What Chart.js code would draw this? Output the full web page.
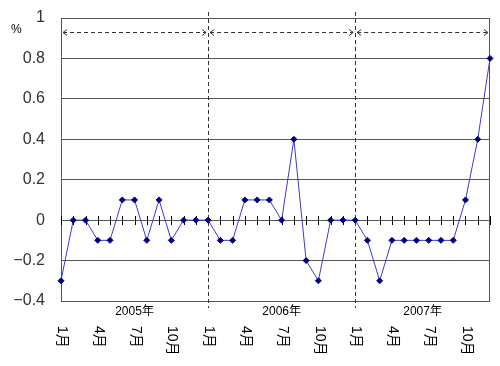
<!DOCTYPE html>
<html>
<head>
<meta charset="utf-8">
<script src="https://cdn.jsdelivr.net/npm/chart.js@4"></script>
<style>
  html, body { margin: 0; padding: 0; background: #fff; }
  #wrap { width: 500px; height: 366px; }
</style>
</head>
<body>
<div id="wrap"><canvas id="myLineChart" width="500" height="366"></canvas></div>
<script>
// Data per tahun (nilai %)
const years = ['2005年', '2006年', '2007年'];
const months = ['1月', '2月', '3月', '4月', '5月', '6月', '7月', '8月', '9月', '10月', '11月', '12月'];
const shownMonths = ['1月', '4月', '7月', '10月'];
const values2005 = [-0.3, 0, 0, -0.1, -0.1, 0.1, 0.1, -0.1, 0.1, -0.1, 0, 0];
const values2006 = [0, -0.1, -0.1, 0.1, 0.1, 0.1, 0, 0.4, -0.2, -0.3, 0, 0];
const values2007 = [0, -0.1, -0.3, -0.1, -0.1, -0.1, -0.1, -0.1, -0.1, 0.1, 0.4, 0.8];
const yTicks = [-0.4, -0.2, 0, 0.2, 0.4, 0.6, 0.8, 1];

const labels = [];
years.forEach(y => months.forEach(m => labels.push(y + m)));
const values = values2005.concat(values2006, values2007);

const jpFont = '"Liberation Sans", Arial, "Noto Sans CJK JP", sans-serif';

// gambar bingkai, garis putus-putus, tanda tick, dan label
const decorPlugin = {
  id: 'decor',
  beforeDatasetsDraw(chart) {
    const { ctx, chartArea: a, scales: { x, y } } = chart;
    ctx.save();

    // bingkai
    ctx.strokeStyle = '#555';
    ctx.lineWidth = 1;
    ctx.strokeRect(Math.round(a.left) + 0.5, Math.round(a.top) + 0.5,
      Math.round(a.right - a.left) - 1, Math.round(a.bottom - a.top));

    // tick kecil pada garis 0
    const y0 = Math.round(y.getPixelForValue(0));
    ctx.strokeStyle = '#000';
    ctx.beginPath();
    for (let i = 0; i < labels.length; i++) {
      const px = Math.round(x.getPixelForValue(i)) + 0.5;
      ctx.moveTo(px, y0 - 4);
      ctx.lineTo(px, y0 + 5);
    }
    ctx.stroke();

    // garis vertikal pemisah tahun
    ctx.strokeStyle = '#333';
    ctx.setLineDash([4, 3]);
    ctx.beginPath();
    [12, 24].forEach(i => {
      const px = Math.round(x.getPixelForValue(i)) + 0.5;
      ctx.moveTo(px, a.top - 6);
      ctx.lineTo(px, a.bottom + 7);
    });
    ctx.stroke();

    // panah dua arah tiap tahun
    const ay = Math.round(a.top + 14) + 0.5;
    const spans = [[0, 12], [12, 24], [24, labels.length - 1]];
    ctx.beginPath();
    spans.forEach(([s, e]) => {
      ctx.moveTo(x.getPixelForValue(s) + 2, ay);
      ctx.lineTo(x.getPixelForValue(e) - 2, ay);
    });
    ctx.stroke();
    ctx.setLineDash([]);
    ctx.beginPath();
    spans.forEach(([s, e]) => {
      const l = x.getPixelForValue(s) + 2;
      const r = x.getPixelForValue(e) - 2;
      ctx.moveTo(l + 4, ay - 3); ctx.lineTo(l, ay); ctx.lineTo(l + 4, ay + 3);
      ctx.moveTo(r - 4, ay - 3); ctx.lineTo(r, ay); ctx.lineTo(r - 4, ay + 3);
    });
    ctx.stroke();
    ctx.restore();
  },
  afterDraw(chart) {
    const { ctx, chartArea: a, scales: { x } } = chart;
    ctx.save();
    ctx.fillStyle = '#000';

    // satuan
    ctx.font = '12px ' + jpFont;
    ctx.textAlign = 'left';
    ctx.textBaseline = 'middle';
    ctx.fillText('%', 11, 30);

    // label tahun
    ctx.textAlign = 'center';
    years.forEach((yr, k) => {
      const s = x.getPixelForValue(k * 12);
      const e = x.getPixelForValue(Math.min(k * 12 + 12, labels.length - 1));
      ctx.fillText(yr, (s + e) / 2, a.bottom + 11);
    });

    // label bulan (vertikal)
    ctx.font = '14px ' + jpFont;
    ctx.textAlign = 'left';
    ctx.textBaseline = 'middle';
    labels.forEach((lab, i) => {
      const m = months[i % 12];
      if (!shownMonths.includes(m)) return;
      ctx.save();
      ctx.translate(x.getPixelForValue(i) + 1, a.bottom + 25);
      ctx.rotate(Math.PI / 2);
      ctx.fillText(m, 0, 0);
      ctx.restore();
    });
    ctx.restore();
  }
};

const ctx = document.getElementById('myLineChart').getContext('2d');

const data = {
  labels: labels,
  datasets: [{
    data: values,
    borderColor: '#3a3ad0',
    borderWidth: 1,
    pointStyle: 'rectRot',
    pointRadius: 3,
    pointBackgroundColor: '#000080',
    pointBorderColor: '#000080',
    pointBorderWidth: 1,
    tension: 0,
    clip: false
  }]
};

const config = {
  type: 'line',
  data: data,
  options: {
    responsive: false,
    animation: false,
    layout: { padding: { top: 18, right: 10, bottom: 65, left: 0 } },
    plugins: {
      legend: { display: false },
      tooltip: { enabled: false }
    },
    scales: {
      x: { display: false },
      y: {
        min: -0.4,
        max: 1,
        afterFit(scale) {
          scale.width = 61;
          scale.paddingTop = 0;
          scale.paddingBottom = 0;
        },
        afterBuildTicks(scale) { scale.ticks = yTicks.map(v => ({ value: v })); },
        border: { display: false },
        grid: { color: '#555', lineWidth: 1, drawTicks: false },
        ticks: {
          padding: 16,
          color: '#333',
          font: { family: '"Liberation Sans", Arial, sans-serif', size: 16 },
          callback: v => {
            const r = Math.round(v * 10) / 10;
            return r < 0 ? '\u2212' + String(-r) : String(r);
          }
        }
      }
    }
  },
  plugins: [decorPlugin]
};

const myLineChart = new Chart(ctx, config);
</script>
</body>
</html>
